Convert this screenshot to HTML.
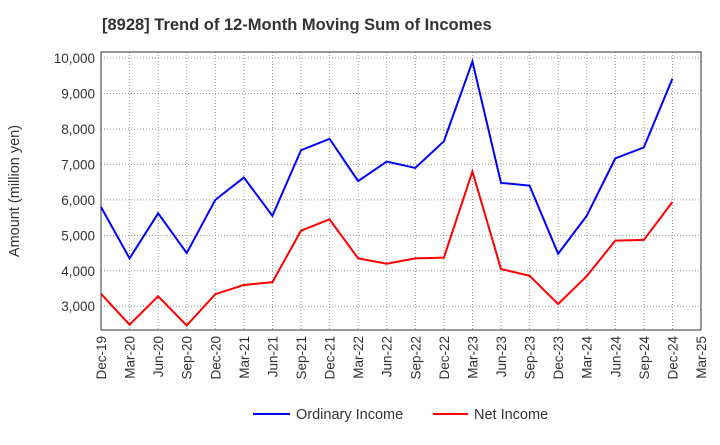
<!DOCTYPE html>
<html><head><meta charset="utf-8"><style>
body{margin:0;background:#fff;font-family:"Liberation Sans",sans-serif}
</style></head><body>
<svg id="chart" width="720" height="440" xmlns="http://www.w3.org/2000/svg">
<text x="102" y="30" font-size="16.5" font-weight="bold" fill="#333">[8928]  Trend of 12-Month Moving Sum of Incomes</text>
<g id="grid"></g><g id="axes"></g><g id="series"></g>
<text transform="translate(19,191) rotate(-90)" text-anchor="middle" font-size="14.5" fill="#333">Amount (million yen)</text>
<g>
<line x1="253" y1="414" x2="290" y2="414" stroke="#0000ff" stroke-width="2"/>
<text x="296" y="419" font-size="14.5" fill="#333">Ordinary Income</text>
<line x1="433" y1="414" x2="468" y2="414" stroke="#ff0000" stroke-width="2"/>
<text x="474" y="419" font-size="14.5" fill="#333">Net Income</text>
</g>
</svg>
<script>
const categories=["Dec-19","Mar-20","Jun-20","Sep-20","Dec-20","Mar-21","Jun-21","Sep-21","Dec-21","Mar-22","Jun-22","Sep-22","Dec-22","Mar-23","Jun-23","Sep-23","Dec-23","Mar-24","Jun-24","Sep-24","Dec-24","Mar-25"];
const ordinaryIncome=[5800,4350,5620,4500,6000,6630,5550,7400,7720,6530,7080,6900,7650,9900,6480,6400,4480,5550,7170,7480,9420];
const netIncome=[3350,2480,3280,2460,3340,3600,3680,5130,5450,4350,4200,4350,4370,6800,4050,3860,3060,3850,4850,4870,5940];
const yTicks=[3000,4000,5000,6000,7000,8000,9000,10000];
const L=101,R=701,T=52,B=330,YMIN=2330,YMAX=10170;
const x=i=>L+(R-L)*i/(categories.length-1);
const y=v=>B-(v-YMIN)/(YMAX-YMIN)*(B-T);
const NS="http://www.w3.org/2000/svg";
function mk(p,t,a){const e=document.createElementNS(NS,t);for(const k in a)e.setAttribute(k,a[k]);p.appendChild(e);return e;}
const g=document.getElementById('grid'),ax=document.getElementById('axes'),s=document.getElementById('series');
categories.forEach((c,i)=>{
 const l=mk(g,'line',{x1:x(i),x2:x(i),y1:T,y2:B,stroke:'#999','stroke-dasharray':'1,2','stroke-width':1});
 
 
 const t=mk(ax,'text',{transform:`translate(${x(i)+5},${B+6}) rotate(-90)`,'text-anchor':'end','font-size':13.5,fill:'#333'});
 t.textContent=c;
 
 
});
yTicks.forEach(v=>{
 const l=mk(g,'line',{x1:L,x2:R,y1:y(v),y2:y(v),stroke:'#999','stroke-dasharray':'1,2','stroke-width':1});
 
 
 const t=mk(ax,'text',{x:L-6,y:y(v)+5,'text-anchor':'end','font-size':13.5,fill:'#333'});
 t.textContent=v.toLocaleString('en-US');
 
 
});
const f=mk(ax,'rect',{x:L,y:T,width:R-L,height:B-T,fill:'none',stroke:'#333','stroke-width':1});


[[ordinaryIncome,'#0000ff','ordinary-income-line'],[netIncome,'#ff0000','net-income-line']].forEach(([d,c,n])=>{
 const p=mk(s,'polyline',{points:d.map((v,i)=>x(i)+','+y(v)).join(' '),fill:'none',stroke:c,'stroke-width':2});
 
 
});
</script>
</body></html>
